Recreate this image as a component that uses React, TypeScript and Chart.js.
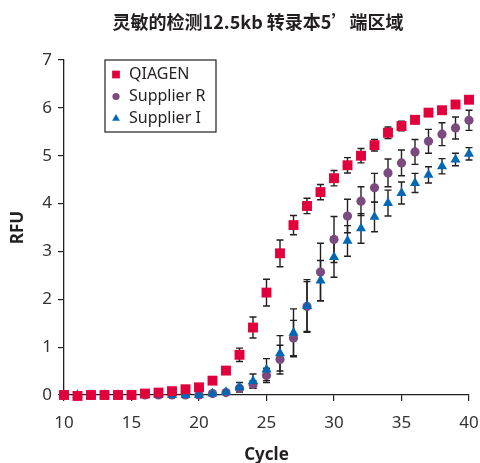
import { useEffect, useRef } from 'react';
import { Chart, registerables } from 'chart.js';
import { drawPoint } from 'chart.js/helpers';

Chart.register(...registerables);

const titleText = '灵敏的检测12.5kb 转录本5’端区域';
const xTitle = 'Cycle';
const yTitle = 'RFU';

const cycles = [10, 11, 12, 13, 14, 15, 16, 17, 18, 19, 20, 21, 22, 23, 24, 25, 26, 27, 28, 29, 30, 31, 32, 33, 34, 35, 36, 37, 38, 39, 40];

const seriesNames = ['QIAGEN', 'Supplier R', 'Supplier I'];

const qiagen = [0, -0.02, 0, 0, 0, 0, 0.03, 0.05, 0.08, 0.12, 0.16, 0.3, 0.51, 0.84, 1.41, 2.14, 2.96, 3.55, 3.95, 4.24, 4.53, 4.8, 5.0, 5.22, 5.48, 5.62, 5.75, 5.9, 5.95, 6.07, 6.17];
const qiagenErr = [0.02, 0.02, 0.02, 0.02, 0.02, 0.02, 0.02, 0.02, 0.02, 0.02, 0.02, 0.04, 0.06, 0.14, 0.22, 0.28, 0.28, 0.2, 0.16, 0.16, 0.16, 0.16, 0.15, 0.12, 0.12, 0.1, 0.08, 0.07, 0.07, 0.07, 0.07];

const supplierR = [0, -0.01, 0, 0, 0, 0, 0, 0, 0, 0, 0, 0.03, 0.05, 0.14, 0.22, 0.41, 0.74, 1.19, 1.85, 2.57, 3.25, 3.74, 4.05, 4.33, 4.64, 4.85, 5.08, 5.3, 5.45, 5.58, 5.74];
const supplierRErr = [0.01, 0.01, 0.01, 0.01, 0.01, 0.01, 0.01, 0.01, 0.01, 0.01, 0.01, 0.02, 0.03, 0.05, 0.08, 0.15, 0.3, 0.37, 0.52, 0.6, 0.48, 0.35, 0.3, 0.3, 0.29, 0.27, 0.26, 0.25, 0.24, 0.23, 0.21];

const supplierI = [0, 0, 0, 0, 0, 0, 0, 0, 0, 0, 0, 0.03, 0.06, 0.16, 0.29, 0.53, 0.87, 1.3, 1.86, 2.39, 2.88, 3.22, 3.48, 3.72, 4.01, 4.22, 4.43, 4.6, 4.78, 4.92, 5.04];
const supplierIErr = [0.01, 0.01, 0.01, 0.01, 0.01, 0.01, 0.01, 0.01, 0.01, 0.01, 0.01, 0.01, 0.02, 0.1, 0.15, 0.23, 0.37, 0.5, 0.55, 0.42, 0.42, 0.32, 0.31, 0.31, 0.27, 0.23, 0.2, 0.17, 0.16, 0.13, 0.13];

const seriesValues = [qiagen, supplierR, supplierI];
const seriesErrors = [qiagenErr, supplierRErr, supplierIErr];
const seriesColors = ['#e2003c', '#7b4a7e', '#0068b4'];
const seriesStyles = ['rect', 'circle', 'triangle'];
const seriesRadius = [7, 4.6, 5.8];
const seriesOrder = [0, 2, 1];

const INK = '#231f20';
const FONT = '"Noto Sans", "DejaVu Sans", sans-serif';
const CJK = '"Noto Sans CJK SC", "Noto Sans", sans-serif';

const errorBarPlugin = {
  id: 'errorBars',
  beforeDatasetsDraw(chart: any) {
    const { ctx } = chart;
    const xs = chart.scales.x;
    const ys = chart.scales.y;
    ctx.save();
    ctx.strokeStyle = INK;
    ctx.lineWidth = 1.4;
    seriesValues.forEach((vals, i) => {
      const errs = seriesErrors[i];
      vals.forEach((v, j) => {
        const e = errs[j];
        const x = xs.getPixelForValue(cycles[j]);
        const yt = ys.getPixelForValue(v + e);
        const yb = ys.getPixelForValue(v - e);
        ctx.beginPath();
        ctx.moveTo(x, yt);
        ctx.lineTo(x, yb);
        ctx.moveTo(x - 3.5, yt);
        ctx.lineTo(x + 3.5, yt);
        ctx.moveTo(x - 3.5, yb);
        ctx.lineTo(x + 3.5, yb);
        ctx.stroke();
      });
    });
    ctx.restore();
  },
};

const titlePlugin = {
  id: 'customTitle',
  afterDraw(chart: any) {
    const { ctx } = chart;
    ctx.save();
    ctx.fillStyle = INK;
    ctx.font = 'bold 18px ' + CJK;
    ctx.textAlign = 'center';
    ctx.textBaseline = 'middle';
    ctx.fillText(titleText, 258, 22);
    ctx.restore();
  },
};

const legendPlugin = {
  id: 'boxLegend',
  afterDraw(chart: any) {
    const { ctx } = chart;
    const left = 105;
    const top = 60;
    const w = 111;
    const h = 72;
    ctx.save();
    ctx.fillStyle = '#ffffff';
    ctx.fillRect(left, top, w, h);
    ctx.strokeStyle = INK;
    ctx.lineWidth = 1.2;
    ctx.strokeRect(left, top, w, h);
    seriesNames.forEach((name, i) => {
      const cy = top + 14.5 + i * 22;
      ctx.fillStyle = seriesColors[i];
      ctx.strokeStyle = seriesColors[i];
      drawPoint(ctx, { pointStyle: seriesStyles[i], radius: seriesRadius[i] * 0.78, borderWidth: 0, rotation: 0 } as any, 116, cy);
      ctx.fillStyle = INK;
      ctx.font = '16px ' + FONT;
      ctx.textAlign = 'left';
      ctx.textBaseline = 'middle';
      ctx.fillText(name, 129, cy);
    });
    ctx.restore();
  },
};

export default function App() {
  const ref = useRef<HTMLCanvasElement>(null);
  useEffect(() => {
    if (!ref.current) return;
    const chart = new Chart(ref.current, {
      type: 'scatter',
      data: {
        datasets: seriesNames.map((name, i) => ({
          label: name,
          data: cycles.map((c, j) => ({ x: c, y: seriesValues[i][j] })),
          pointStyle: seriesStyles[i] as any,
          pointRadius: seriesRadius[i],
          backgroundColor: seriesColors[i],
          borderColor: seriesColors[i],
          borderWidth: 0,
          showLine: false,
          clip: false as any,
          order: seriesOrder[i],
        })),
      },
      options: {
        animation: false,
        responsive: false,
        layout: { padding: { top: 60, right: 11, left: 0, bottom: 0 } },
        plugins: {
          legend: { display: false },
          tooltip: { enabled: false },
          title: { display: false },
        },
        scales: {
          x: {
            type: 'linear',
            min: 10,
            max: 40,
            afterFit: (s: any) => { s.height = 68; s.paddingRight = 0; s.paddingLeft = 0; },
            ticks: { stepSize: 5, font: { size: 17, family: FONT }, color: '#333333', padding: 12 },
            grid: { display: true, drawOnChartArea: false, drawTicks: true, tickLength: 6, color: INK, lineWidth: 1.2 },
            border: { display: true, color: INK, width: 1.3 },
            title: { display: true, text: xTitle, font: { size: 17, weight: 'bold', family: FONT, lineHeight: 1 }, color: INK, padding: { top: 0, bottom: -1 } },
          },
          y: {
            min: 0,
            max: 7,
            afterFit: (s: any) => { s.width = 64; s.paddingTop = 0; s.paddingBottom = 0; },
            ticks: { stepSize: 1, font: { size: 17, family: FONT }, color: '#333333', padding: 6 },
            grid: { display: true, drawOnChartArea: false, drawTicks: true, tickLength: 6, color: INK, lineWidth: 1.2 },
            border: { display: true, color: INK, width: 1.3 },
            title: { display: true, text: yTitle, font: { size: 17, weight: 'bold', family: FONT, lineHeight: 1 }, color: INK, padding: { top: 10, bottom: 0 } },
          },
        },
      },
      plugins: [errorBarPlugin, titlePlugin, legendPlugin],
    });
    return () => chart.destroy();
  }, []);
  return (
    <div style={{ position: 'fixed', left: 0, top: 0, width: 480, height: 463, background: '#fff' }}>
      <canvas ref={ref} width={480} height={463} />
    </div>
  );
}
